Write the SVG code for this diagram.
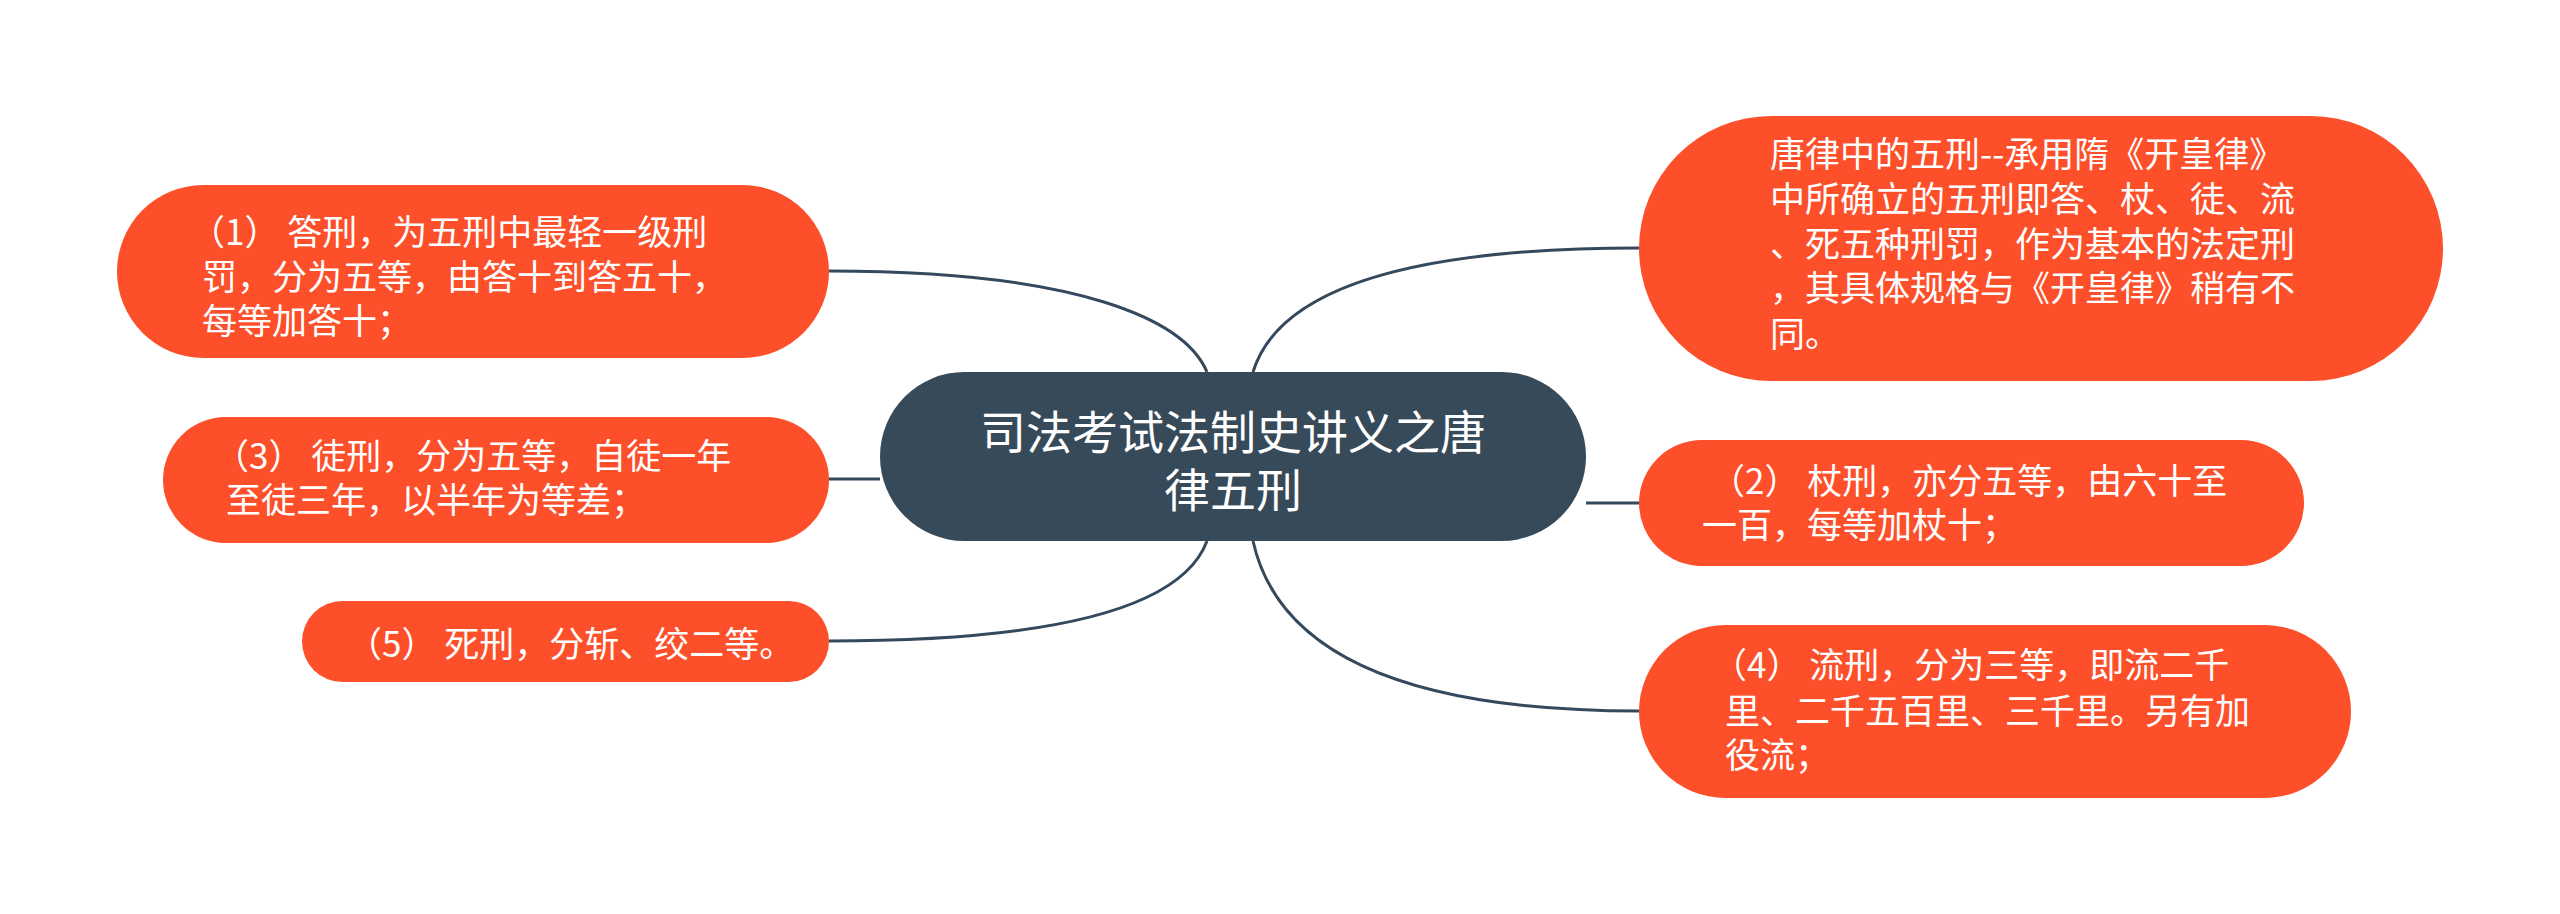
<svg xmlns="http://www.w3.org/2000/svg" width="2560" height="914" viewBox="0 0 2560 914">
<style>
.n{fill:#FC4F2A}
.t{font-family:"Noto Sans CJK SC","Noto Sans",sans-serif;font-size:35px;fill:#fff}
.c{font-family:"Noto Sans CJK SC","Noto Sans",sans-serif;font-size:46px;fill:#fff}
.l{fill:none;stroke:#34495E;stroke-width:3}
</style>
<rect width="2560" height="914" fill="#fff"/>
<g id="connectors">
<path class="l" d="M829 271 C1080 271 1185 320 1207 372"/>
<path class="l" d="M829 479 L880 479"/>
<path class="l" d="M829 641 C1080 641 1185 600 1207 541"/>
<path class="l" d="M1639 248 C1380 248 1275 300 1253 372"/>
<path class="l" d="M1586 503 L1639 503"/>
<path class="l" d="M1639 711 C1380 711 1275 640 1253 541"/>
</g>
<g id="center">
<rect x="880" y="372" width="706" height="169" rx="84.5" fill="#374A59"/>
<text class="c" text-anchor="middle"><tspan x="1233" y="449">司法考试法制史讲义之唐</tspan><tspan x="1233" y="507">律五刑</tspan></text>
</g>
<g id="n1">
<rect class="n" x="117" y="185" width="712" height="173" rx="86.5"/>
<text class="t"><tspan x="190" y="245">（1） 答刑，为五刑中最轻一级刑</tspan><tspan x="202" y="290">罚，分为五等，由答十到答五十，</tspan><tspan x="202" y="334">每等加答十；</tspan></text>
</g>
<g id="n3">
<rect class="n" x="163" y="417" width="666" height="126" rx="63"/>
<text class="t"><tspan x="214" y="469">（3） 徒刑，分为五等，自徒一年</tspan><tspan x="226" y="513">至徒三年，以半年为等差；</tspan></text>
</g>
<g id="n5">
<rect class="n" x="302" y="601" width="527" height="81" rx="40.5"/>
<text class="t"><tspan x="347" y="657">（5） 死刑，分斩、绞二等。</tspan></text>
</g>
<g id="n0">
<rect class="n" x="1639" y="116" width="804" height="265" rx="132.5"/>
<text class="t"><tspan x="1770" y="167">唐律中的五刑--承用隋《开皇律》</tspan><tspan x="1770" y="212">中所确立的五刑即答、杖、徒、流</tspan><tspan x="1770" y="257">、死五种刑罚，作为基本的法定刑</tspan><tspan x="1770" y="301">，其具体规格与《开皇律》稍有不</tspan><tspan x="1770" y="347">同。</tspan></text>
</g>
<g id="n2">
<rect class="n" x="1639" y="440" width="665" height="126" rx="63"/>
<text class="t"><tspan x="1710" y="494">（2） 杖刑，亦分五等，由六十至</tspan><tspan x="1702" y="538">一百，每等加杖十；</tspan></text>
</g>
<g id="n4">
<rect class="n" x="1639" y="625" width="712" height="173" rx="86.5"/>
<text class="t"><tspan x="1712" y="678">（4） 流刑，分为三等，即流二千</tspan><tspan x="1725" y="724">里、二千五百里、三千里。另有加</tspan><tspan x="1725" y="768">役流；</tspan></text>
</g>
</svg>
